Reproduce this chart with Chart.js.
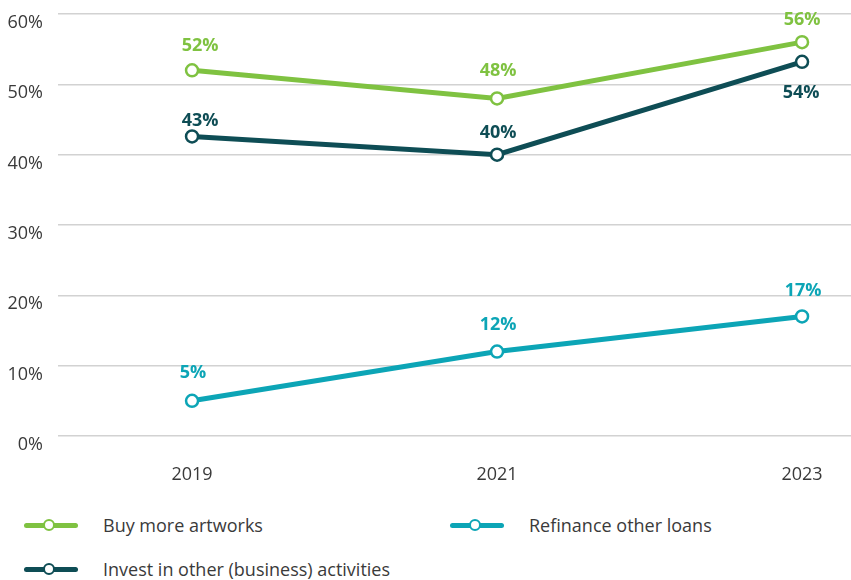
<!DOCTYPE html>
<html>
<head>
<meta charset="utf-8">
<script src="https://cdn.jsdelivr.net/npm/chart.js@4"></script>
<style>
  body { margin: 0; background: #fff; font-family: "Open Sans", sans-serif; }
  #wrap { position: relative; width: 851px; height: 580px; }
  #chart-box { position: absolute; left: 0; top: 0; width: 851px; height: 490px; }
  .legend-item { position: absolute; display: flex; align-items: center; height: 24px; font-size: 18px; font-weight: 400; color: #3a3a3a; }
  .legend-mark { position: relative; width: 54px; height: 5px; border-radius: 3px; margin-right: 25px; }
  .legend-mark span { position: absolute; left: 19px; top: -4px; width: 8px; height: 8px; border-radius: 50%; background: #fff; border: 2.5px solid; }
</style>
</head>
<body>
<div id="wrap">
  <div id="chart-box"><canvas id="line-chart" width="851" height="490"></canvas></div>
  <div id="legend"></div>
</div>
<script>
// data
const years = [2019, 2021, 2023];
const buyArt = [52, 48, 56];
const investOther = [42.6, 40, 53.2];
const refinance = [5, 12, 17];
const buyArtLabels = ["52%", "48%", "56%"];
const investOtherLabels = ["43%", "40%", "54%"];
const refinanceLabels = ["5%", "12%", "17%"];
const yTicks = [0, 10, 20, 30, 40, 50, 60];

// colors
const green = "#7fc241";
const darkTeal = "#0e4d55";
const teal = "#0ca5b6";

const chart_el = document.getElementById("line-chart");
const legend_el = document.getElementById("legend");

// draws the bold value labels next to each point
const valueLabels = {
    id: "valueLabels",
    afterDatasetsDraw(chart) {
        const ctx = chart.ctx;
        ctx.save();
        ctx.font = "bold 18px 'Open Sans'";
        ctx.textAlign = "center";
        ctx.textBaseline = "middle";
        chart.data.datasets.forEach((ds, i) => {
            const meta = chart.getDatasetMeta(i);
            ctx.fillStyle = ds.borderColor;
            meta.data.forEach((pt, j) => {
                ctx.fillText(ds.valueText[j], pt.x + ds.labelDx[j], pt.y + ds.labelDy[j]);
            });
        });
        ctx.restore();
    }
};

function makeSet(label, values, texts, color, dx, dy) {
    return {
        label: label,
        data: values.map((v, i) => ({ x: years[i], y: v })),
        valueText: texts,
        labelDx: dx,
        labelDy: dy,
        borderColor: color,
        borderWidth: 5,
        pointRadius: 6,
        pointHoverRadius: 6,
        pointBorderWidth: 2.5,
        pointBackgroundColor: "#fff",
        pointBorderColor: color,
        tension: 0
    };
}

new Chart(chart_el, {
    type: "line",
    data: {
        datasets: [
            makeSet("Buy more artworks", buyArt, buyArtLabels, green, [8, 1, 0], [-24, -28, -22]),
            makeSet("Invest in other (business) activities", investOther, investOtherLabels, darkTeal, [8, 1, -1], [-16, -22, 31]),
            makeSet("Refinance other loans", refinance, refinanceLabels, teal, [1, 1, 1], [-28, -27, -26])
        ]
    },
    options: {
        responsive: false,
        animation: false,
        layout: { autoPadding: false, padding: { top: 14, right: 0, left: 0, bottom: 0 } },
        plugins: {
            legend: { display: false },
            tooltip: { enabled: false }
        },
        scales: {
            x: {
                type: "linear",
                min: 2018.121,
                max: 2023.321,
                grid: { display: false },
                border: { display: false },
                afterBuildTicks: (scale) => { scale.ticks = years.map(v => ({ value: v })); },
                afterFit: (scale) => {
                    scale.height = 54;
                    scale.paddingLeft = 0;
                    scale.paddingRight = 0;
                },
                ticks: {
                    padding: 20,
                    color: "#3a3a3a",
                    font: { family: "Open Sans", size: 18, weight: 400 },
                    callback: (v) => String(v)
                }
            },
            y: {
                min: 0,
                max: 60,
                grid: { color: "#d2d2d2", lineWidth: 1.5, drawTicks: false },
                border: { display: false },
                afterBuildTicks: (scale) => { scale.ticks = yTicks.map(v => ({ value: v })); },
                afterFit: (scale) => {
                    scale.width = 58;
                    scale.paddingTop = 0;
                    scale.paddingBottom = 0;
                },
                ticks: {
                    padding: 15,
                    labelOffset: 9,
                    color: "#3a3a3a",
                    font: { family: "Open Sans", size: 18, weight: 400 },
                    callback: (v) => v + "%"
                }
            }
        }
    },
    plugins: [valueLabels]
});

// html legend
const legendItems = [
    { text: "Buy more artworks", color: green, left: 24, top: 513 },
    { text: "Refinance other loans", color: teal, left: 450, top: 513 },
    { text: "Invest in other (business) activities", color: darkTeal, left: 24, top: 557 }
];
legend_el.innerHTML = legendItems.map(item => {
    return `
        <div class="legend-item" style="left:${item.left}px;top:${item.top}px">
            <div class="legend-mark" style="background:${item.color}"><span style="border-color:${item.color}"></span></div>
            ${item.text}
        </div>
    `
}).join("");
</script>
</body>
</html>
